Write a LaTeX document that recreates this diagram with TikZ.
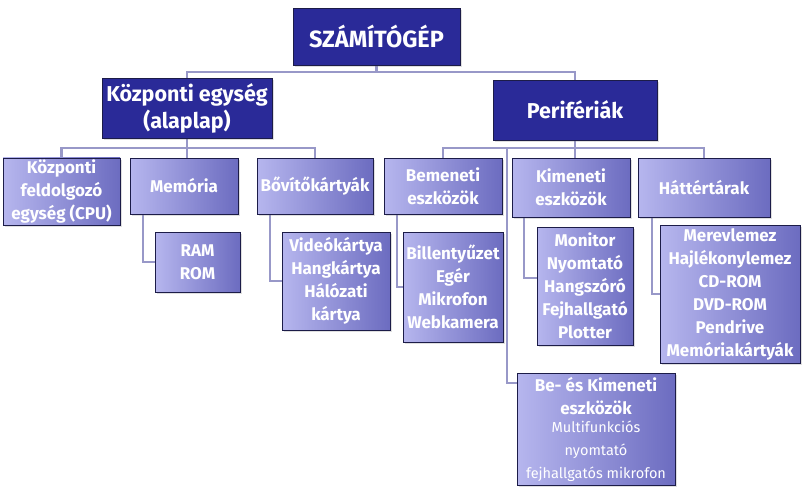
\documentclass[tikz,border=0pt]{standalone}
\usepackage{fontspec}
\setmainfont{Fira Sans}
\usepackage{tikz}
\usetikzlibrary{arrows,shadows,backgrounds}
\tikzset{>=latex}
\definecolor{sotetkek}{RGB}{42,42,152}
\definecolor{keret}{RGB}{28,28,72}
\definecolor{vilagos}{RGB}{182,182,238}
\definecolor{kozep}{RGB}{108,108,192}
\definecolor{vonal}{RGB}{152,152,200}
\newcommand{\kis}{\fontsize{14.5}{18}\selectfont\mdseries}

\begin{document}
\begin{tikzpicture}[x=1pt, y=-1pt]
        % fo = dark main box, al = light sub box, ag = branch line
        \tikzstyle{fo}=[draw=keret, fill=sotetkek, text=white, align=center, inner sep=2pt,
                font=\fontsize{21.5}{27}\selectfont\bfseries,
                drop shadow={shadow xshift=2pt, shadow yshift=-2pt, opacity=0.25}]
        \tikzstyle{al}=[draw=keret, left color=vilagos, right color=kozep, text=white, align=center,
                inner sep=2pt, font=\fontsize{17}{23}\selectfont\bfseries,
                drop shadow={shadow xshift=2pt, shadow yshift=-2pt, opacity=0.25}]
        \tikzstyle{ag}=[draw=vonal, line width=2.5pt]
        \useasboundingbox (0,0) rectangle (810,493);

        \node[fo, minimum width=167pt, minimum height=57pt, font=\fontsize{23.5}{28}\selectfont\bfseries] (gep) at (376.5,36.5) {SZÁMÍTÓGÉP};
        \node[fo, minimum width=170pt, minimum height=60pt] (kozp) at (187,108) {Központi egység\\(alaplap)};
        \node[fo, minimum width=164pt, minimum height=60pt] (peri) at (575,110) {Perifériák};

        \node[al, minimum width=117pt, minimum height=67pt] (cpu) at (61.5,191.5) {Központi\\feldolgozó\\egység (CPU)};
        \node[al, minimum width=108pt, minimum height=56pt] (mem) at (184,186) {Memória};
        \node[al, minimum width=116pt, minimum height=56pt] (bov) at (315,186) {Bővítőkártyák};
        \node[al, minimum width=85pt, minimum height=60pt] (ramrom) at (197.5,262) {RAM\\ROM};
        \node[al, minimum width=108pt, minimum height=98pt] (kartya) at (336,281) {Videókártya\\Hangkártya\\Hálózati\\kártya};

        \node[al, minimum width=118pt, minimum height=56pt] (beme) at (443,186) {Bemeneti\\eszközök};
        \node[al, minimum width=118pt, minimum height=59pt] (kime) at (571,187.5) {Kimeneti\\eszközök};
        \node[al, minimum width=132pt, minimum height=59pt] (hatt) at (704,187.5) {Háttértárak};
        \node[al, minimum width=100pt, minimum height=110pt] (bemlista) at (453,287) {Billentyűzet\\Egér\\Mikrofon\\Webkamera};
        \node[al, minimum width=96pt, minimum height=118pt] (kimlista) at (585,286) {Monitor\\Nyomtató\\Hangszóró\\Fejhallgató\\Plotter};
        \node[al, minimum width=140pt, minimum height=138pt] (hattlista) at (730,294) {Merevlemez\\Hajlékonylemez\\CD-ROM\\DVD-ROM\\Pendrive\\Memóriakártyák};
        \node[al, minimum width=158pt, minimum height=112pt] (bekim) at (596,429)
                {Be- és Kimeneti\\eszközök\\[-5pt]
                 \kis Multifunkciós\\\kis nyomtató\\\kis fejhallgatós mikrofon};

        \begin{scope}[on background layer]
                \path[fill=white] (0,0) rectangle (810,493);
                \coordinate (sin1) at (0,72);
                \coordinate (sin2) at (0,148);
                \coordinate (bk) at (507,148);
                \draw[ag] (gep.south) -- (gep.south |- sin1) -| (kozp.north);
                \draw[ag] (gep.south |- sin1) -| (peri.north);
                \draw[ag] (cpu.north) -- (cpu.north |- sin2) -| (bov.north);
                \draw[ag] (kozp.south) -- (kozp.south |- mem.north);
                \draw[ag] (beme.north) -- (beme.north |- sin2) -| (hatt.north);
                \draw[ag] (peri.south) -- (peri.south |- kime.north);
                \draw[ag] (bk) |- ([yshift=-10pt]bekim.north west);
                \draw[ag] ([xshift=13pt]mem.south west) |- (ramrom.west);
                \draw[ag] ([xshift=13pt]bov.south west) |- (kartya.west);
                \draw[ag] ([xshift=13pt]beme.south west) |- (bemlista.west);
                \draw[ag] ([xshift=12pt]kime.south west) |- ([yshift=8pt]kimlista.west);
                \draw[ag] ([xshift=14pt]hatt.south west) |- (hattlista.west);
        \end{scope}
\end{tikzpicture}
\end{document}
